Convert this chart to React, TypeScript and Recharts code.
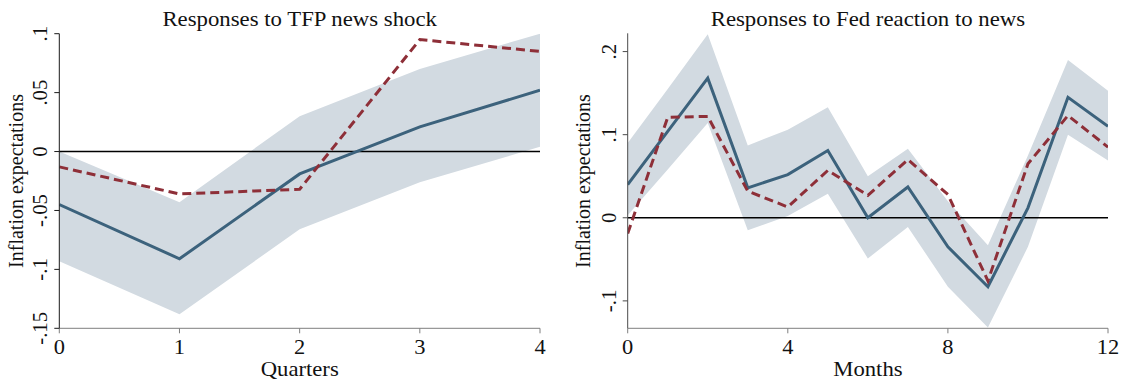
import React from "react";
import { ComposedChart, Area, Line, XAxis, YAxis, ReferenceLine } from "recharts";

// ---------- data ----------
const quarters = [0, 1, 2, 3, 4];
const tfpResponse = [-0.045, -0.091, -0.019, 0.021, 0.052];
const tfpAltResponse = [-0.013, -0.036, -0.032, 0.095, 0.085];
const tfpBandLow = [-0.093, -0.138, -0.066, -0.026, 0.004];
const tfpBandHigh = [0.0, -0.043, 0.03, 0.07, 0.1];
const tfpYTicks = [-0.15, -0.1, -0.05, 0, 0.05, 0.1];
const tfpXTicks = [0, 1, 2, 3, 4];

const months = [0, 1, 2, 3, 4, 5, 6, 7, 8, 9, 10, 11, 12];
const fedResponse = [0.04, 0.104, 0.168, 0.036, 0.052, 0.081, 0.0, 0.037, -0.035, -0.083, 0.012, 0.145, 0.11];
const fedAltResponse = [-0.019, 0.121, 0.122, 0.032, 0.013, 0.057, 0.027, 0.07, 0.028, -0.076, 0.065, 0.123, 0.085];
const fedBandHigh = [0.09, 0.155, 0.221, 0.087, 0.106, 0.133, 0.05, 0.083, 0.02, -0.033, 0.075, 0.19, 0.153];
const fedBandLow = [0.003, 0.058, 0.114, -0.015, 0.002, 0.029, -0.049, -0.011, -0.083, -0.132, -0.035, 0.1, 0.069];
const fedYTicks = [-0.1, 0, 0.1, 0.2];
const fedXTicks = [0, 4, 8, 12];

const titles = ["Responses to TFP news shock", "Responses to Fed reaction to news"];
const xTitles = ["Quarters", "Months"];
const yTitle = "Inflation expectations";

// ---------- styles ----------
const FONT = '"Liberation Serif", "Times New Roman", serif';
const BAND = "#d2dae1";
const SOLID = "#3c627c";
const DASHED = "#8e2f38";
const SX = 1.07;

const tfpData = quarters.map((q, i) => ({
  x: q,
  band: [tfpBandLow[i], tfpBandHigh[i]],
  solid: tfpResponse[i],
  dashed: tfpAltResponse[i],
}));
const fedData = months.map((m, i) => ({
  x: m,
  band: [fedBandLow[i], fedBandHigh[i]],
  solid: fedResponse[i],
  dashed: fedAltResponse[i],
}));

const fmt = (v: number) => {
  if (Math.abs(v) < 1e-9) return "0";
  const s = String(Math.round(Math.abs(v) * 1000) / 1000).replace(/^0/, "");
  return (v < 0 ? "-" : "") + s;
};

const YTick = (props: any) => {
  const { x, y, payload } = props;
  const bx = x - 7;
  return (
    <text
      x={bx}
      y={y}
      transform={`rotate(-90 ${bx} ${y})`}
      textAnchor="middle"
      fontFamily={FONT}
      fontSize={20.8}
      fill="#111"
    >
      {fmt(payload.value)}
    </text>
  );
};

const XTick = (props: any) => {
  const { x, y, payload } = props;
  const by = y + 20.7;
  return (
    <text
      x={0}
      y={0}
      transform={`translate(${x} ${by}) scale(${SX} 1)`}
      textAnchor="middle"
      fontFamily={FONT}
      fontSize={21}
      fill="#111"
    >
      {String(payload.value)}
    </text>
  );
};

type PanelProps = {
  data: any[];
  xDomain: [number, number];
  xTicks: number[];
  yDomain: [number, number];
  yTicks: number[];
  margin: { top: number; right: number; left: number; bottom: number };
  yStroke: string;
};

const Panel = ({ data, xDomain, xTicks, yDomain, yTicks, margin, yStroke }: PanelProps) => (
  <ComposedChart width={562} height={385} data={data} margin={margin}>
    <XAxis
      dataKey="x"
      type="number"
      domain={xDomain}
      ticks={xTicks}
      height={40}
      stroke="#7f7f7f"
      tickSize={5}
      tickMargin={0}
      tick={(p: any) => <XTick {...p} />}
      interval={0}
      allowDataOverflow
    />
    <YAxis
      type="number"
      domain={yDomain}
      ticks={yTicks}
      width={50}
      stroke={yStroke}
      tickSize={5}
      tickMargin={0}
      tick={(p: any) => <YTick {...p} />}
      interval={0}
      allowDataOverflow
    />
    <Area
      type="linear"
      dataKey="band"
      stroke="none"
      fill={BAND}
      fillOpacity={1}
      isAnimationActive={false}
      activeDot={false}
    />
    <ReferenceLine y={0} stroke="#000" strokeWidth={1.5} />
    <Line
      type="linear"
      dataKey="solid"
      stroke={SOLID}
      strokeWidth={3}
      dot={false}
      activeDot={false}
      isAnimationActive={false}
    />
    <Line
      type="linear"
      dataKey="dashed"
      stroke={DASHED}
      strokeWidth={3}
      strokeDasharray="9 5"
      dot={false}
      activeDot={false}
      isAnimationActive={false}
    />
  </ComposedChart>
);

export default function App() {
  return (
    <div
      style={{
        position: "absolute",
        left: 0,
        top: 0,
        width: 1124,
        height: 385,
        background: "#fff",
        overflow: "hidden",
      }}
    >
      <div style={{ position: "absolute", left: 0, top: 0 }}>
        <Panel
          data={tfpData}
          xDomain={[0, 4]}
          xTicks={tfpXTicks}
          yDomain={[-0.15, 0.1]}
          yTicks={tfpYTicks}
          margin={{ top: 33.7, right: 22, left: 9.3, bottom: 16.7 }}
          yStroke="#1a1a1a"
        />
      </div>
      <div style={{ position: "absolute", left: 562, top: 0 }}>
        <Panel
          data={fedData}
          xDomain={[0, 12]}
          xTicks={fedXTicks}
          yDomain={[-0.133, 0.222]}
          yTicks={fedYTicks}
          margin={{ top: 33.3, right: 16, left: 15.7, bottom: 16.7 }}
          yStroke="#4a4a4a"
        />
      </div>
      <svg
        width={1124}
        height={385}
        style={{ position: "absolute", left: 0, top: 0, pointerEvents: "none" }}
      >
        {[
          { cx: 299.7, ylx: 22.5 },
          { cx: 867.9, ylx: 590 },
        ].map((p, i) => (
          <g key={i} fontFamily={FONT} fill="#111">
            <text
              x={0}
              y={0}
              transform={`translate(${p.cx} 26) scale(${SX} 1)`}
              textAnchor="middle"
              fontSize={21.3}
            >
              {titles[i]}
            </text>
            <text
              x={0}
              y={0}
              transform={`translate(${p.cx} 376) scale(${SX} 1)`}
              textAnchor="middle"
              fontSize={21.2}
            >
              {xTitles[i]}
            </text>
            <text
              x={p.ylx}
              y={181}
              transform={`rotate(-90 ${p.ylx} 181)`}
              textAnchor="middle"
              fontSize={20}
            >
              {yTitle}
            </text>
          </g>
        ))}
      </svg>
    </div>
  );
}
